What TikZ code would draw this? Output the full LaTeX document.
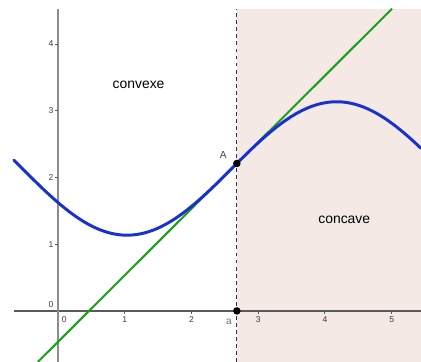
\documentclass[tikz,border=0pt]{standalone}
\usepackage{fontspec}
\setmainfont{Liberation Sans}
\usepackage{xcolor}
\usepackage{tikz}
\definecolor{curveblue}{RGB}{25,50,205}
\definecolor{tangentgreen}{RGB}{25,160,25}
\definecolor{concavebg}{RGB}{245,233,229}
\definecolor{axisgray}{RGB}{90,90,90}
\definecolor{yaxisgray}{RGB}{140,140,140}
\tikzset{
  axis/.style={
    draw=axisgray,
    line width=0.8pt
  },
  tick/.style={
    draw=axisgray,
    line width=0.6pt
  },
  ticklabel/.style={
    inner sep=0pt,
    text=black!75,
    font=\fontsize{5.5}{6}\selectfont
  },
  region/.style={
    inner sep=0pt,
    font=\fontsize{8.9}{10}\selectfont
  },
  point/.style={
    circle,
    fill=black,
    inner sep=1.7pt
  }
}

\begin{document}
\begin{tikzpicture}[x=1.5cm, y=1.5cm]
  \useasboundingbox (-0.87,-0.765) rectangle (5.44,4.66);
  \coordinate (BL) at (-0.66,-0.765);
  \coordinate (TR) at (5.44,4.53);
  \coordinate (Xl) at (-0.66,0);
  \coordinate (Xr) at (5.44,0);
  \coordinate (Yb) at (0,-0.765);
  \coordinate (Yt) at (0,4.53);
  \coordinate (Db) at (2.68,-0.765);
  \coordinate (Dt) at (2.68,4.53);

  % concave part
  \fill[concavebg] (Db) rectangle (TR);

  % axes
  \draw[axis] (Xl) -- (Xr);
  \draw[axis, draw=yaxisgray, line width=1.1pt] (Yb) -- (Yt);
  \foreach \i in {1,...,5} {
    \draw[tick] (\i,0) -- (\i,-0.045);
    \node[ticklabel] at (\i,-0.125) {\i};
  }
  \foreach \i in {1,...,4} {
    \draw[tick] (0,\i) -- (-0.045,\i);
    \node[ticklabel] at (-0.105,\i) {\i};
  }
  \node[ticklabel] at (0.095,-0.125) {0};
  \node[ticklabel] at (-0.105,0.09) {0};

  % inflection abscissa
  \draw[black!80, line width=0.5pt, dash pattern=on 2.5pt off 2pt] (Db) -- (Dt);

  % tangent at A
  \coordinate (Tb) at (-0.303,-0.765);
  \coordinate (Tt) at (5.007,4.53);
  \draw[tangentgreen, line width=1.3pt] (Tb) -- (Tt);

  % f
  \draw[curveblue, line width=1.9pt, line cap=round]
    plot[domain=-0.66:5.44, samples=120, smooth] (\x, {2.135+sin((\x-2.605) r)});

  \node[point] (A) at (2.68,2.21) {};
  \node[point] (a) at (2.68,0) {};
  \node[ticklabel, text=black!55, font=\fontsize{6.5}{7}\selectfont] at (2.56,-0.16) {a};
  \node[ticklabel, font=\fontsize{6.5}{7}\selectfont] at (2.478,2.34) {A};

  \node[region] (cvx) at (1.207,3.39) {convexe};
  \node[region] (ccv) at (4.29,1.364) {concave};
\end{tikzpicture}
\end{document}
